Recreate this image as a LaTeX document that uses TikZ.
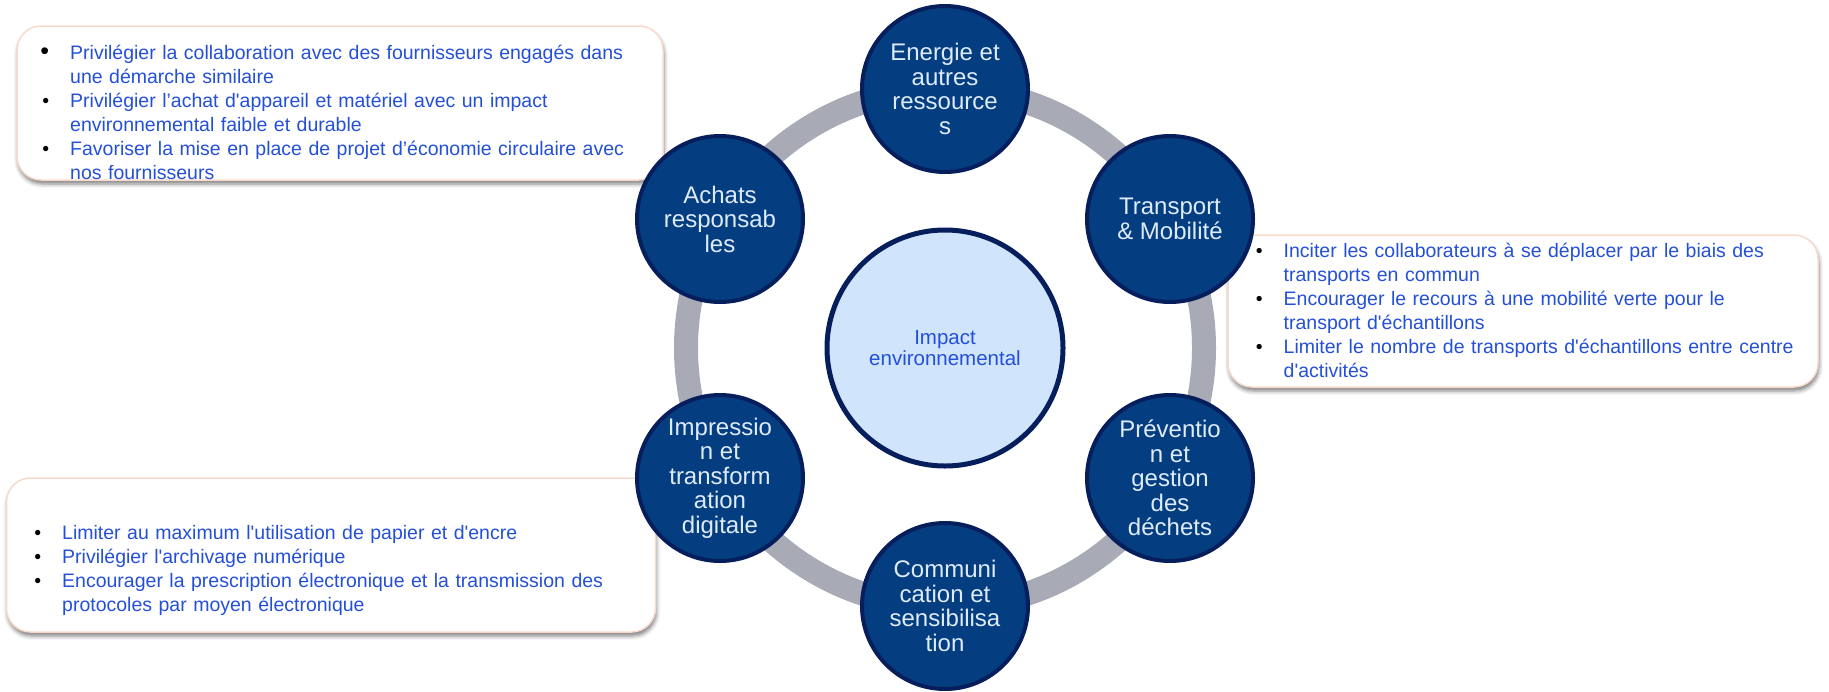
\documentclass[tikz,border=0pt]{standalone}
\usepackage{fontspec}
\setmainfont{Liberation Sans}
\usepackage{enumitem}
\usetikzlibrary{shadows.blur}
\definecolor{ringgray}{RGB}{168,170,182}
\definecolor{topicblue}{RGB}{4,62,128}
\definecolor{navy}{RGB}{6,30,92}
\definecolor{corelight}{RGB}{208,228,252}
\definecolor{textblue}{RGB}{36,80,216}
\definecolor{topictext}{RGB}{222,235,250}
\definecolor{boxedge}{RGB}{248,218,204}
\setlist[itemize]{label={\color{black}\textbullet},leftmargin=25pt,labelsep=21pt,itemsep=0pt,topsep=0pt,parsep=0pt,partopsep=0pt}
\newcommand{\apos}{\textquotesingle}
\newcommand{\bigpuce}{{\color{black}\fontsize{25}{25}\selectfont\textbullet}}
\tikzset{topic/.style={circle,draw=navy,line width=4pt,fill=topicblue,
		minimum size=166pt,inner sep=0pt,align=center,text=topictext,
		font=\fontsize{24}{24.5}\selectfont},
	core/.style={circle,draw=navy,line width=5pt,fill=corelight,
		minimum size=236pt,inner sep=0pt,align=center,text=textblue,
		font=\fontsize{20.5}{21.7}\selectfont},
	infobox/.style={rectangle,rounded corners=24pt,draw=boxedge,line width=1.5pt,fill=white,
		blur shadow={shadow xshift=1pt,shadow yshift=-4pt,shadow blur radius=4pt,shadow opacity=50}},
	infotext/.style={anchor=north west,inner sep=0pt,text width=#1,text=textblue,
		font=\fontsize{19.5}{24}\selectfont},
}

\begin{document}
\begin{tikzpicture}[x=1pt,y=-1pt]
	\useasboundingbox (0,0) rectangle (1829,691);
	
	% boxes
	\node[infobox,minimum width=646pt,minimum height=154pt] (achatsbox) at (340,103) {};
	\node[infotext=600pt] (achatstext) at (45,35) {%
		\begin{itemize}
			\item[\bigpuce] Privilégier la collaboration avec des fournisseurs engagés dans\newline une démarche similaire
			\item Privilégier l’achat d\apos appareil et matériel avec un impact\newline environnemental faible et durable
			\item Favoriser la mise en place de projet d’économie circulaire avec\newline nos fournisseurs
	\end{itemize}};
	
	\node[infobox,minimum width=590pt,minimum height=152pt] (transportbox) at (1523,311) {};
	\node[infotext=560pt] (transporttext) at (1258.5,233) {%
		\begin{itemize}
			\item Inciter les collaborateurs à se déplacer par le biais des\newline transports en commun
			\item Encourager le recours à une mobilité verte pour le\newline transport d\apos échantillons
			\item Limiter le nombre de transports d\apos échantillons entre centre\newline d\apos activités
	\end{itemize}};
	
	\node[infobox,minimum width=649pt,minimum height=154pt] (impressionbox) at (331,555) {};
	\node[infotext=600pt] (impressiontext) at (37,515) {%
		\begin{itemize}
			\item Limiter au maximum l\apos utilisation de papier et d\apos encre
			\item Privilégier l\apos archivage numérique
			\item Encourager la prescription électronique et la transmission des\newline protocoles par moyen électronique
	\end{itemize}};
	
	% ring
	\draw[ringgray,line width=24pt] (945,348) circle (259);
	
	\node[core] (impact) at (945,348) {Impact\\environnemental};
	
	\node[topic] (energie) at (945,89) {Energie et\\autres\\ressource\\s};
	\node[topic] (transport) at (1170,219) {Transport\\\& Mobilité};
	\node[topic] (prevention) at (1170,478) {Préventio\\n et\\gestion\\des\\déchets};
	\node[topic] (communication) at (945,606) {Communi\\cation et\\sensibilisa\\tion};
	\node[topic] (impression) at (720,478) {Impressio\\n et\\transform\\ation\\digitale};
	\node[topic] (achats) at (720,219) {Achats\\responsab\\les};
	
\end{tikzpicture}
\end{document}
